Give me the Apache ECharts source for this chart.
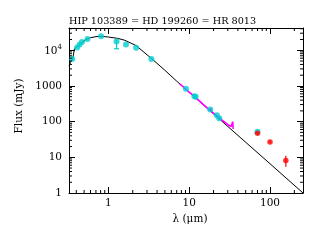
<!DOCTYPE html>
<html><head><meta charset="utf-8">
<script src="https://cdn.jsdelivr.net/npm/echarts@6/dist/echarts.min.js"></script>
<style>html,body{margin:0;padding:0;background:#fff}#c{width:319px;height:242px}</style>
</head><body><div id="c"></div>
<script>
const titleText = 'HIP 103389 = HD 199260 = HR 8013';
const xName = 'λ (μm)';
const yName = 'Flux (mJy)';

// model photosphere (black line)
const modelLam  = [0.325, 0.34, 0.36, 0.375, 0.38, 0.40, 0.45, 0.50, 0.55, 0.60, 0.70, 0.80, 1.0, 1.3, 1.6, 2.2, 3.4, 5.0, 7.0, 10, 20, 50, 100, 256];
const modelFlux = [3600, 4600, 5600, 6200, 11000, 12000, 15000, 18500, 21000, 22500, 24000, 24500, 23500, 21500, 19000, 13500, 5900, 2750, 1360, 660, 165, 26.4, 6.6, 1.0];

// photometry (cyan)
const photLam  = [0.356, 0.41, 0.44, 0.47, 0.55, 0.81, 1.26, 1.65, 2.2, 3.4, 9.1, 11.6, 12.0, 18.2, 22.0, 23.5, 70];
const photFlux = [5700, 12000, 14500, 17000, 20800, 24500, 17500, 14500, 11700, 5700, 830, 515, 500, 220, 150, 125, 52];
const photErrLam = [1.26];
const photErrLo  = [11000];
const photErrHi  = [20000];

// IRS spectrum (magenta)
const specLam  = [7.6, 8, 8.5, 9, 9.5, 10, 10.5, 11, 11.5, 12, 12.5, 13, 14, 15, 16, 17, 17.5, 18, 18.5, 19, 20, 21, 22, 23, 24, 25, 26, 27, 28, 29, 30, 31, 32, 33, 34, 34.5, 35];
const specFlux = [1150, 1040, 920, 820, 740, 670, 610, 560, 510, 470, 435, 400, 345, 300, 265, 232, 260, 205, 235, 190, 172, 158, 146, 134, 124, 114, 108, 100, 94, 88, 83, 79, 76, 73, 71, 100, 62];

// far-IR photometry (red)
const farLam  = [70, 100, 157];
const farFlux = [47, 27, 8.1];
const farErrLo = [44, 25.5, 5.4];
const farErrHi = [50, 28.5, 11];

// axis ticks
const xMinorTicks = [0.4,0.5,0.6,0.7,0.8,0.9,2,3,4,5,6,7,8,9,20,30,40,50,60,70,80,90,200];
const yMinorTicks = [2,3,4,5,6,7,8,9,20,30,40,50,60,70,80,90,200,300,400,500,600,700,800,900,2000,3000,4000,5000,6000,7000,8000,9000,20000,30000,40000];

const X_MIN = 0.325, X_MAX = 256, Y_MIN = 1, Y_MAX = 42000;
const FONT = 'DejaVu Serif';

const zip = (a, b) => a.map((v, i) => [v, b[i]]);
const isDecade = v => Math.abs(Math.log10(v) - Math.round(Math.log10(v))) < 1e-6;

const chart = echarts.init(document.getElementById('c'), null, {renderer: 'canvas'});

const axisCommon = {
  type: 'log', logBase: 10,
  axisLine: {show: true, onZero: false, lineStyle: {color: '#000', width: 1}},
  axisTick: {show: true, inside: true, length: 6, lineStyle: {color: '#000', width: 1}},
  splitLine: {show: false},
  minorTick: {show: false}
};

const cyan = '#00CED1';

chart.setOption({
  animation: false,
  backgroundColor: '#fff',
  title: {
    text: titleText, left: 69, top: 16, padding: 0,
    textStyle: {fontFamily: FONT, fontSize: 9.7, fontWeight: 'normal', color: '#000'}
  },
  grid: {left: 69, right: 16, top: 28, bottom: 49},
  xAxis: [
    Object.assign({}, axisCommon, {
      position: 'bottom', min: X_MIN, max: X_MAX,
      name: xName, nameLocation: 'middle', nameGap: 12,
      nameTextStyle: {fontFamily: FONT, fontSize: 10.5, color: '#000', padding: [0, 0, 0, 8]},
      axisLabel: {
        margin: 5, fontFamily: FONT, fontSize: 10.5, color: '#000',
        showMinLabel: false, showMaxLabel: false,
        formatter: v => isDecade(v) ? String(Math.round(v)) : ''
      }
    }),
    Object.assign({}, axisCommon, {
      position: 'top', min: X_MIN, max: X_MAX,
      axisLabel: {show: false}
    })
  ],
  yAxis: [
    Object.assign({}, axisCommon, {
      position: 'left', min: Y_MIN, max: Y_MAX,
      name: yName, nameLocation: 'middle', nameGap: 36,
      nameTextStyle: {fontFamily: FONT, fontSize: 10.5, color: '#000', padding: [0, 0, 0, 9]},
      axisLabel: {
        margin: 7, fontFamily: FONT, fontSize: 10.5, color: '#000',
        showMinLabel: true, showMaxLabel: false,
        formatter: v => {
          if (!isDecade(v)) return '';
          const e = Math.round(Math.log10(v));
          if (e >= 4) return '{b|10}{s|' + e + '}';
          return String(Math.round(v));
        },
        rich: {
          b: {fontFamily: FONT, fontSize: 10.5, color: '#000', verticalAlign: 'bottom', lineHeight: 14},
          s: {fontFamily: FONT, fontSize: 7, color: '#000', verticalAlign: 'top', lineHeight: 14}
        }
      }
    }),
    Object.assign({}, axisCommon, {
      position: 'right', min: Y_MIN, max: Y_MAX,
      axisLabel: {show: false}
    })
  ],
  series: [
    {
      type: 'line', name: 'model', data: zip(modelLam, modelFlux),
      showSymbol: false, symbol: 'none', lineStyle: {color: '#000', width: 1}, z: 2, clip: true
    },
    {
      type: 'line', name: 'spectrum', data: zip(specLam, specFlux),
      showSymbol: false, symbol: 'none', lineStyle: {color: '#FF00FF', width: 1.6}, z: 3
    },
    {
      type: 'custom', name: 'photErr', z: 4,
      data: photErrLam.map((l, i) => [l, photErrLo[i], photErrHi[i]]),
      renderItem: (params, api) => {
        const lo = api.coord([api.value(0), api.value(1)]);
        const hi = api.coord([api.value(0), api.value(2)]);
        return {type: 'group', children: [
          {type: 'line', shape: {x1: lo[0], y1: lo[1], x2: hi[0], y2: hi[1]}, style: {stroke: cyan, lineWidth: 1.2}},
          {type: 'line', shape: {x1: lo[0] - 2.5, y1: lo[1], x2: lo[0] + 2.5, y2: lo[1]}, style: {stroke: cyan, lineWidth: 1.2}}
        ]};
      }
    },
    {
      type: 'scatter', name: 'phot', data: zip(photLam, photFlux),
      symbol: 'circle', symbolSize: 6, itemStyle: {color: cyan}, z: 5
    },
    {
      type: 'custom', name: 'farErr', z: 6,
      data: farLam.map((l, i) => [l, farErrLo[i], farErrHi[i]]),
      renderItem: (params, api) => {
        const lo = api.coord([api.value(0), api.value(1)]);
        const hi = api.coord([api.value(0), api.value(2)]);
        return {type: 'line', shape: {x1: lo[0], y1: lo[1], x2: hi[0], y2: hi[1]}, style: {stroke: '#FF0000', lineWidth: 1.2}};
      }
    },
    {
      type: 'scatter', name: 'far', data: zip(farLam, farFlux),
      symbol: 'circle', symbolSize: 5.5, itemStyle: {color: '#FF0000'}, z: 7
    },
    {
      type: 'custom', name: 'xMinor', z: 10, silent: true,
      data: xMinorTicks.map(v => [v, Y_MIN]),
      renderItem: (params, api) => {
        const b = api.coord([api.value(0), Y_MIN]);
        const t = api.coord([api.value(0), Y_MAX]);
        return {type: 'group', children: [
          {type: 'line', shape: {x1: b[0], y1: b[1], x2: b[0], y2: b[1] - 3}, style: {stroke: '#000', lineWidth: 1}},
          {type: 'line', shape: {x1: t[0], y1: t[1], x2: t[0], y2: t[1] + 3}, style: {stroke: '#000', lineWidth: 1}}
        ]};
      }
    },
    {
      type: 'custom', name: 'yMinor', z: 10, silent: true,
      data: yMinorTicks.map(v => [X_MIN, v]),
      renderItem: (params, api) => {
        const l = api.coord([X_MIN, api.value(1)]);
        const r = api.coord([X_MAX, api.value(1)]);
        return {type: 'group', children: [
          {type: 'line', shape: {x1: l[0], y1: l[1], x2: l[0] + 3, y2: l[1]}, style: {stroke: '#000', lineWidth: 1}},
          {type: 'line', shape: {x1: r[0], y1: r[1], x2: r[0] - 3, y2: r[1]}, style: {stroke: '#000', lineWidth: 1}}
        ]};
      }
    }
  ]
});
</script>
</body></html>
